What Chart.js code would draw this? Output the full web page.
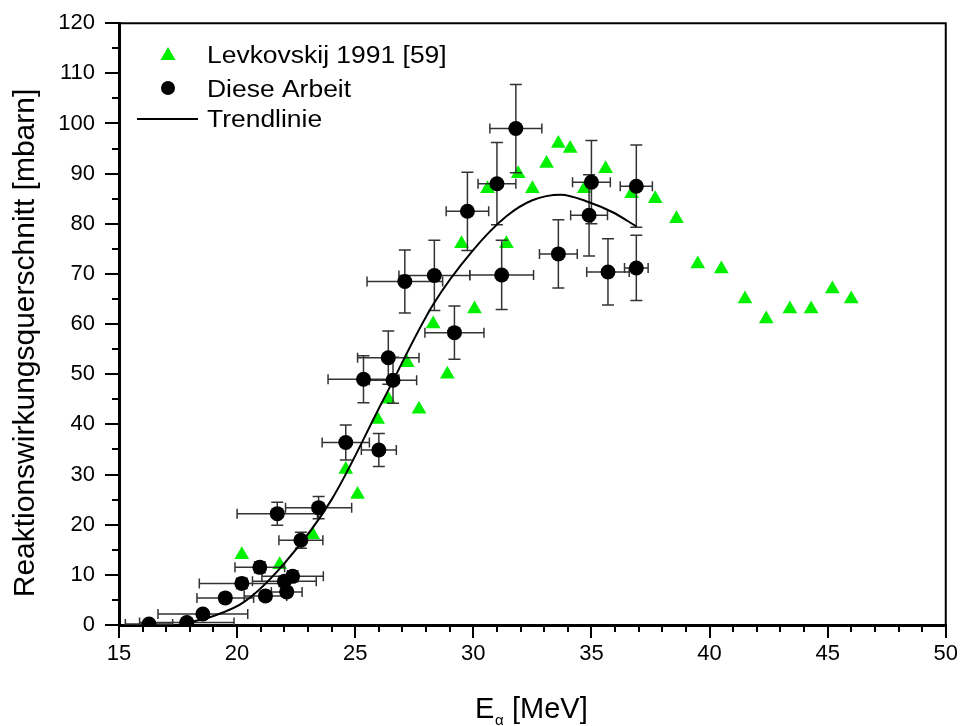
<!DOCTYPE html>
<html>
<head>
<meta charset="utf-8">
<script src="https://cdn.jsdelivr.net/npm/chart.js@4"></script>
<style>
html,body{margin:0;padding:0;background:#fff;}
canvas{display:block;}
</style>
</head>
<body>
<canvas id="c" width="961" height="726"></canvas>
<script>
// ---- Data ----
const levkE = [20.2,21.8,23.2,24.6,25.1,25.95,26.4,27.2,27.7,28.3,28.9,29.5,30.05,30.6,31.4,31.9,32.5,33.1,33.6,34.1,34.7,35.6,36.7,37.7,38.6,39.5,40.5,41.5,42.4,43.4,44.3,45.2,46.0];
const levkS = [14,12,18,31,26,41,45,52.3,43,60,50,76,63,87,76,90,87,92,96,95,87,91,86,85,81,72,71,65,61,63,63,67,65];

const workE = [16.27,17.87,18.55,19.5,20.2,20.96,21.2,21.7,22.0,22.1,22.35,22.7,23.45,24.6,26.0,25.35,26.6,26.4,29.2,27.1,28.35,29.75,31.0,31.8,31.2,33.6,35.0,34.9,35.7,36.9,36.9];
const workS = [0.2,0.5,2.2,5.4,8.3,11.5,5.8,22.2,8.7,6.6,9.7,16.9,23.4,36.4,34.9,49,48.8,53.3,58.3,68.5,69.7,82.5,88,99,69.8,74,88.3,81.7,70.4,87.5,71.2];
const workEErr = [1.0,2.0,1.9,1.2,1.8,1.05,0.9,1.7,1.35,0.65,1.3,0.93,1.4,1.0,0.74,1.5,1.0,1.3,1.25,1.6,1.5,0.9,0.8,1.1,1.35,0.8,0.8,0.78,0.9,0.68,0.5];
const workSErr = [0.5,0.5,0.6,0.8,1.0,1.1,0.8,2.3,1.0,0.8,1.1,1.6,2.2,3.5,3.3,4.7,4.6,5.3,5.3,6.3,7.0,7.8,8.2,8.8,6.9,6.8,8.3,8.1,6.6,8.2,6.5];

const trendE = [17.5,19.0,20.3,22.0,24.0,26.2,28.3,30.0,31.4,32.5,33.7,34.9,35.9,36.9];
const trendS = [0,1.8,4.6,12.3,25.0,45.0,63.9,74.8,81.5,84.7,85.8,84.3,82.3,79.5];

const xTicksMin = 15, xTicksMax = 50, xStep = 5;
const yTicksMin = 0, yTicksMax = 120, yStep = 10;

const legendLabels = ['Levkovskij 1991 [59]', 'Diese Arbeit', 'Trendlinie'];
const yTitle = 'Reaktionswirkungsquerschnitt [mbarn]';

const FONT = '"Liberation Sans", Arial, sans-serif';
const GREEN = '#00f000';

const pts = (xs, ys) => xs.map((x, i) => ({x: x, y: ys[i]}));

const customDraw = {
  id: 'customDraw',
  afterDatasetDraw(chart, args) {
    if (args.index !== 2) return;
    const ctx = chart.ctx, xs = chart.scales.x, ys = chart.scales.y, a = chart.chartArea;
    ctx.save();
    ctx.beginPath();
    ctx.rect(a.left, a.top, a.right - a.left, a.bottom - a.top);
    ctx.clip();
    ctx.strokeStyle = '#333';
    ctx.lineWidth = 1.5;
    for (let i = 0; i < workE.length; i++) {
      const px = xs.getPixelForValue(workE[i]);
      const py = ys.getPixelForValue(workS[i]);
      const x1 = xs.getPixelForValue(workE[i] - workEErr[i]);
      const x2 = xs.getPixelForValue(workE[i] + workEErr[i]);
      const y1 = ys.getPixelForValue(workS[i] - workSErr[i]);
      const y2 = ys.getPixelForValue(workS[i] + workSErr[i]);
      ctx.beginPath();
      ctx.moveTo(x1, py); ctx.lineTo(x2, py);
      ctx.moveTo(x1, py - 5); ctx.lineTo(x1, py + 5);
      ctx.moveTo(x2, py - 5); ctx.lineTo(x2, py + 5);
      ctx.moveTo(px, y1); ctx.lineTo(px, y2);
      ctx.moveTo(px - 6, y1); ctx.lineTo(px + 6, y1);
      ctx.moveTo(px - 6, y2); ctx.lineTo(px + 6, y2);
      ctx.stroke();
    }
    ctx.restore();
  },
  afterDraw(chart) {
    const ctx = chart.ctx, xs = chart.scales.x, ys = chart.scales.y, a = chart.chartArea;
    ctx.save();
    // top and right frame
    ctx.strokeStyle = '#000';
    ctx.lineWidth = 2;
    ctx.beginPath();
    ctx.moveTo(a.left, a.top); ctx.lineTo(a.right, a.top); ctx.lineTo(a.right, a.bottom);
    ctx.stroke();
    // minor ticks
    ctx.lineWidth = 2;
    ctx.beginPath();
    for (let v = xTicksMin + 1; v < xTicksMax; v++) {
      if (v % xStep === 0) continue;
      const p = Math.round(xs.getPixelForValue(v));
      ctx.moveTo(p, a.bottom); ctx.lineTo(p, a.bottom + 7);
    }
    for (let v = yTicksMin + 5; v < yTicksMax; v += 10) {
      const p = Math.round(ys.getPixelForValue(v));
      ctx.moveTo(a.left, p); ctx.lineTo(a.left - 7, p);
    }
    ctx.stroke();

    // legend
    ctx.fillStyle = GREEN;
    ctx.beginPath();
    ctx.moveTo(168, 47); ctx.lineTo(175.5, 60); ctx.lineTo(160.5, 60); ctx.closePath();
    ctx.fill();
    ctx.fillStyle = '#000';
    ctx.beginPath();
    ctx.arc(168, 88, 7, 0, Math.PI * 2);
    ctx.fill();
    ctx.lineWidth = 2;
    ctx.beginPath();
    ctx.moveTo(137, 119); ctx.lineTo(198, 119);
    ctx.stroke();
    ctx.font = '23px ' + FONT;
    ctx.textBaseline = 'alphabetic';
    ctx.textAlign = 'left';
    const baselines = [63, 97, 127];
    legendLabels.forEach((t, i) => {
      ctx.save();
      ctx.translate(207, baselines[i]);
      ctx.scale(1.15, 1);
      ctx.fillText(t, 0, 0);
      ctx.restore();
    });

    // x axis title: E_alpha [MeV]
    ctx.font = '29px ' + FONT;
    ctx.fillText('E', 475, 718);
    ctx.font = '15px ' + FONT;
    ctx.fillText('\u03B1', 495, 725);
    ctx.font = '29px ' + FONT;
    ctx.fillText('[MeV]', 512, 718);

    // y axis title
    ctx.save();
    ctx.translate(34, 343);
    ctx.rotate(-Math.PI / 2);
    ctx.textAlign = 'center';
    ctx.font = '30px ' + FONT;
    ctx.fillText(yTitle, 0, 0);
    ctx.restore();
    ctx.restore();
  }
};

new Chart(document.getElementById('c'), {
  type: 'scatter',
  data: {
    datasets: [
      {
        label: legendLabels[2],
        data: pts(trendE, trendS),
        showLine: true,
        borderColor: '#000',
        borderWidth: 2,
        pointRadius: 0,
        cubicInterpolationMode: 'monotone',
        fill: false
      },
      {
        label: legendLabels[1],
        data: pts(workE, workS),
        pointStyle: 'circle',
        pointRadius: 7.5,
        backgroundColor: '#000',
        borderColor: '#000',
        borderWidth: 0
      },
      {
        label: legendLabels[0],
        data: pts(levkE, levkS),
        pointStyle: 'triangle',
        pointRadius: 8.5,
        backgroundColor: GREEN,
        borderColor: GREEN,
        borderWidth: 0
      }
    ]
  },
  options: {
    responsive: false,
    devicePixelRatio: 1,
    animation: false,
    layout: { padding: { top: 20, right: 15, left: 0, bottom: 0 } },
    plugins: { legend: { display: false }, tooltip: { enabled: false } },
    scales: {
      x: {
        type: 'linear',
        min: xTicksMin, max: xTicksMax,
        ticks: { stepSize: xStep, color: '#000', padding: 3, font: { family: FONT, size: 22 } },
        grid: { display: true, drawOnChartArea: false, drawTicks: true, tickLength: 13, color: '#000', lineWidth: 2 },
        border: { display: true, color: '#000', width: 3 },
        afterFit: (s) => { s.height = 101; }
      },
      y: {
        type: 'linear',
        min: yTicksMin, max: yTicksMax,
        ticks: { stepSize: yStep, color: '#000', padding: 10, font: { family: FONT, size: 22 } },
        grid: { display: true, drawOnChartArea: false, drawTicks: true, tickLength: 14, color: '#000', lineWidth: 2 },
        border: { display: true, color: '#000', width: 3 },
        afterFit: (s) => { s.width = 119; }
      }
    }
  },
  plugins: [customDraw]
});
</script>
</body>
</html>
